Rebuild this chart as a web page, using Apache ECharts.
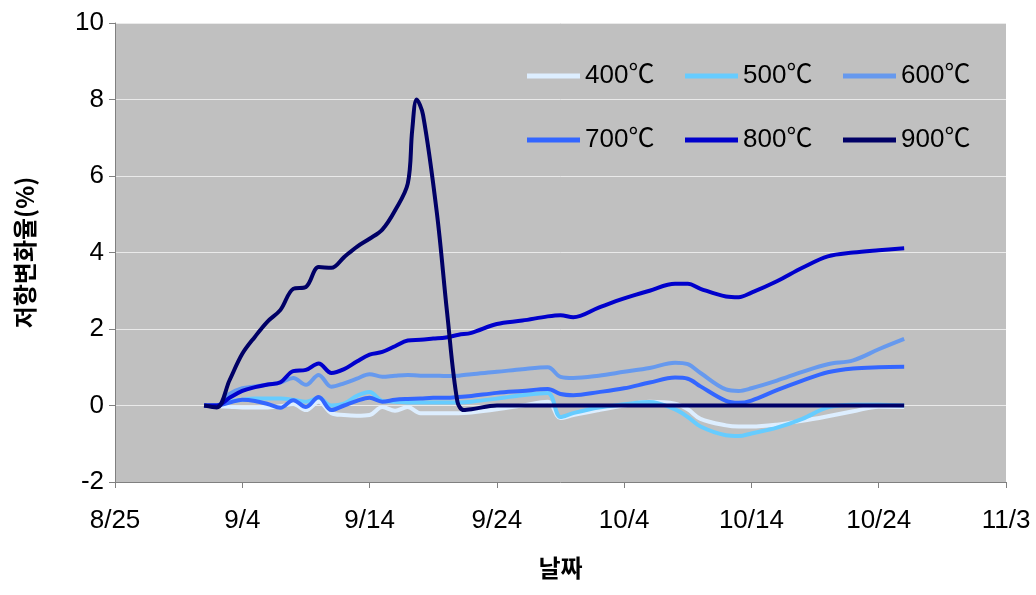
<!DOCTYPE html>
<html><head><meta charset="utf-8">
<script src="https://cdn.jsdelivr.net/npm/echarts@6/dist/echarts.min.js"></script>
<style>html,body{margin:0;padding:0;background:#fff}#c{width:1036px;height:595px}</style>
</head><body><div id="c"></div>
<script>
// x values are days counted from 8/25
const xTickLabels = ['8/25','9/4','9/14','9/24','10/4','10/14','10/24','11/3'];
const seriesNames = ['400℃','500℃','600℃','700℃','800℃','900℃'];
const days = [7,8,9,10,11,12,13,14,15,16,17,18,19,20,21,22,23,24,25,26,27,28,30,32,34,35,36,38,40,42,44,45,46,48,49,50,52,54,56,58,60,62];
const v400 = [0,-0.02,-0.03,-0.05,-0.05,-0.05,-0.02,0.04,-0.12,0.1,-0.2,-0.25,-0.27,-0.25,-0.04,-0.14,-0.04,-0.2,-0.2,-0.2,-0.2,-0.18,-0.1,0.0,0.1,-0.33,-0.25,-0.12,0.0,0.1,0.05,-0.1,-0.35,-0.52,-0.55,-0.55,-0.5,-0.4,-0.28,-0.15,-0.03,-0.04];
const v500 = [0,0,0.1,0.15,0.18,0.18,0.18,0.15,0.1,0.2,0.0,0.05,0.25,0.35,0.12,0.1,0.08,0.08,0.08,0.08,0.08,0.1,0.18,0.27,0.33,-0.3,-0.2,-0.05,0.03,0.09,-0.1,-0.3,-0.55,-0.78,-0.8,-0.73,-0.58,-0.35,-0.05,0.02,0.02,0.0];
const v600 = [0,0,0.3,0.45,0.5,0.55,0.6,0.72,0.54,0.8,0.49,0.58,0.7,0.82,0.75,0.78,0.8,0.78,0.78,0.77,0.78,0.82,0.88,0.95,1.0,0.75,0.72,0.78,0.88,0.98,1.12,1.08,0.85,0.42,0.38,0.45,0.65,0.88,1.08,1.18,1.47,1.74];
const v700 = [0,0,0.08,0.15,0.12,0.04,-0.06,0.14,-0.04,0.22,-0.12,0.0,0.12,0.2,0.1,0.15,0.17,0.18,0.2,0.2,0.22,0.25,0.33,0.38,0.43,0.3,0.27,0.35,0.45,0.6,0.73,0.7,0.5,0.12,0.07,0.13,0.4,0.65,0.87,0.97,1.0,1.01];
const v800 = [0,0,0.2,0.38,0.48,0.55,0.61,0.9,0.93,1.1,0.85,0.95,1.15,1.33,1.4,1.55,1.7,1.72,1.75,1.78,1.85,1.9,2.13,2.22,2.33,2.36,2.31,2.56,2.8,3.0,3.18,3.18,3.05,2.85,2.83,2.95,3.25,3.6,3.9,4.0,4.06,4.11];
const days900 = [7,8,9,10,11,12,13,14,15,16,17,18,19,20,21,22,23,23.35,23.7,24.2,25.3,26.1,26.9,27.4,28,30,62];
const v900 = [0,-0.05,0.66,1.35,1.8,2.2,2.5,3.05,3.1,3.62,3.6,3.88,4.15,4.36,4.6,5.1,5.8,7.2,8.0,7.6,5.0,2.4,0.1,-0.12,-0.1,0,0];

const colors = ['#DDEEFF','#66CCFF','#6699EE','#3366FF','#0000CC','#000066'];
const FONT = '"Liberation Sans", Arial, "Noto Sans CJK KR", sans-serif';
const KFONT = '"Noto Sans CJK KR", "Liberation Sans", sans-serif';

const pairs = (xs, ys) => xs.map((x, i) => [x, ys[i]]);
const allData = [pairs(days,v400), pairs(days,v500), pairs(days,v600), pairs(days,v700), pairs(days,v800), pairs(days900,v900)];

const legendPos = [[527,63],[685,63],[843,63],[527,127],[685,127],[843,127]];

const chart = echarts.init(document.getElementById('c'), null, {renderer:'canvas'});
chart.setOption({
  animation: false,
  backgroundColor: '#ffffff',
  grid: {left:115, right:30, top:23, bottom:113, show:true, backgroundColor:'#C0C0C0', borderWidth:0},
  legend: seriesNames.map((n, i) => ({
    data:[n], left: legendPos[i][0], top: legendPos[i][1], padding:0,
    icon:'rect', itemWidth:53, itemHeight:5, selectedMode:false,
    textStyle:{fontSize:26, color:'#000', fontFamily:FONT}
  })),
  xAxis: {
    type:'value', min:0, max:70, interval:10,
    name:'날짜', nameLocation:'middle', nameGap:74,
    nameTextStyle:{fontSize:24, fontWeight:'bold', color:'#000', fontFamily:KFONT},
    axisLine:{show:true, onZero:false, lineStyle:{color:'#808080', width:1}},
    axisTick:{show:true, length:6, lineStyle:{color:'#808080'}},
    axisLabel:{fontSize:26, color:'#000', fontFamily:FONT, margin:26,
      formatter: v => xTickLabels[Math.round(v/10)] || ''},
    splitLine:{show:false}
  },
  yAxis: {
    type:'value', min:-2, max:10, interval:2,
    name:'저항변화율(%)', nameLocation:'middle', nameGap:78,
    nameTextStyle:{fontSize:24, fontWeight:'bold', color:'#000', fontFamily:KFONT},
    axisLine:{show:true, onZero:false, lineStyle:{color:'#808080', width:1}},
    axisTick:{show:true, length:6, lineStyle:{color:'#808080'}},
    axisLabel:{fontSize:26, color:'#000', fontFamily:FONT, margin:11},
    splitLine:{show:true, lineStyle:{color:'#EAEAEA', width:1}}
  },
  series: seriesNames.map((n, i) => ({
    name:n, type:'line', data: allData[i], smooth:0.35, symbol:'none',
    lineStyle:{color:colors[i], width:4}, itemStyle:{color:colors[i]},
    z: 2 + i
  }))
});
</script></body></html>
